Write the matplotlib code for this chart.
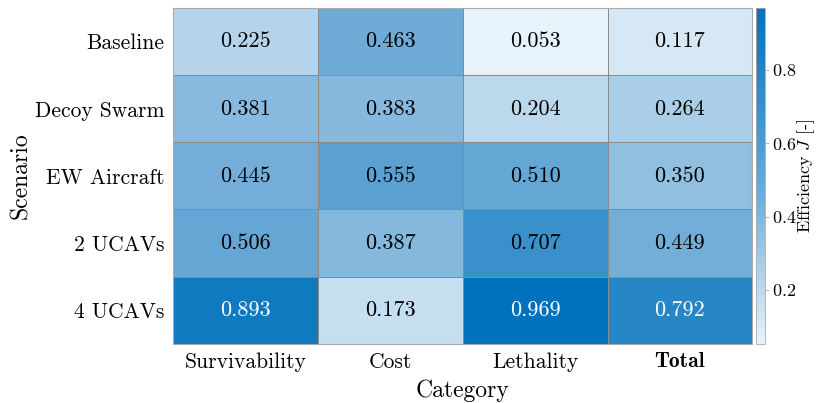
import numpy as np
import matplotlib.pyplot as plt
from matplotlib.colors import LinearSegmentedColormap

plt.rcParams['font.family'] = 'cmr10'
plt.rcParams['mathtext.fontset'] = 'cm'
plt.rcParams['axes.formatter.use_mathtext'] = True

scenarios = ['Baseline', 'Decoy Swarm', 'EW Aircraft', '2 UCAVs', '4 UCAVs']
categories = ['Survivability', 'Cost', 'Lethality', 'Total']
survivability = [0.225, 0.381, 0.445, 0.506, 0.893]
cost = [0.463, 0.383, 0.555, 0.387, 0.173]
lethality = [0.053, 0.204, 0.510, 0.707, 0.969]
total = [0.117, 0.264, 0.350, 0.449, 0.792]

vals = np.array([survivability, cost, lethality, total]).T

cmap = LinearSegmentedColormap.from_list(
    'blues', [(0.0, (0.91, 0.95, 0.98)), (0.45, (0.43, 0.67, 0.84)), (1.0, (0.0, 0.447, 0.741))])

fig = plt.figure(figsize=(8.16, 4.03), dpi=100)
ax = fig.add_axes([0.212, 0.147, 0.710, 0.833])
cax = fig.add_axes([0.927, 0.147, 0.011, 0.833])

mesh = ax.pcolormesh(vals, cmap=cmap, vmin=vals.min(), vmax=vals.max(),
                     edgecolors='#8a8a8a', linewidth=0.6)
ax.set_xlim(0, 4)
ax.set_ylim(5, 0)

for i in range(len(scenarios)):
    for j in range(len(categories)):
        v = vals[i, j]
        ax.text(j + 0.5, i + 0.5, f'{v:.3f}', ha='center', va='center', fontsize=16,
                color='white' if v > 0.75 else 'black')

ax.set_xticks(np.arange(4) + 0.5)
ax.set_xticklabels(categories, fontsize=15.5)
ax.get_xticklabels()[3].set_fontfamily('cmb10')
ax.set_yticks(np.arange(5) + 0.5)
ax.set_yticklabels(scenarios, fontsize=15.5)
ax.tick_params(length=0, pad=6)
for s in ax.spines.values():
    s.set_color('#aaaaaa')
    s.set_linewidth(0.8)
ax.set_xlabel('Category', fontsize=17, labelpad=6)
ax.set_ylabel('Scenario', fontsize=17, labelpad=2)

cb = fig.colorbar(mesh, cax=cax)
cb.set_ticks([0.2, 0.4, 0.6, 0.8])
cb.ax.tick_params(labelsize=13, length=3, width=0.5, color='#999999', pad=2)
cb.outline.set_edgecolor('#aaaaaa')
cb.outline.set_linewidth(0.6)
cb.set_label(r'Efficiency $J$ [-]', fontsize=13)
cb.ax.yaxis.set_label_coords(4.3, 0.5)

fig.savefig('out.png', dpi=100)
